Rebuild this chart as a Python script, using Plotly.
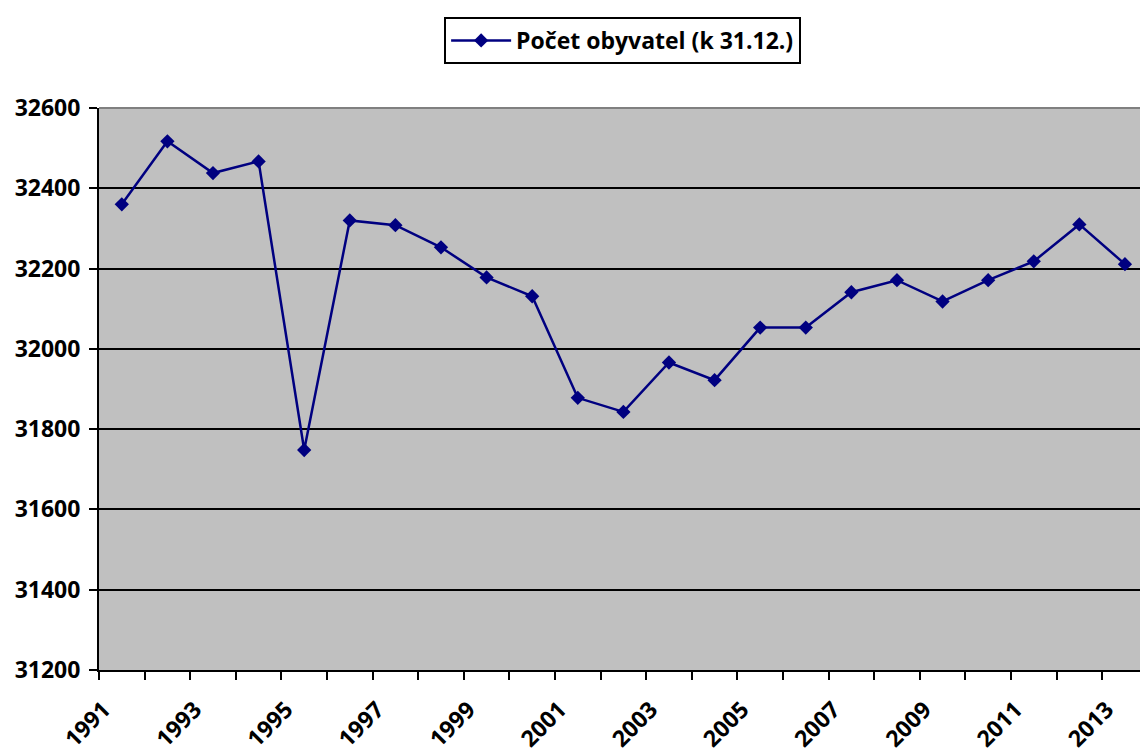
import plotly.graph_objects as go

years = list(range(1991, 2014))
population = [32360, 32517, 32438, 32467, 31748, 32320, 32308, 32253, 32178, 32131,
              31878, 31843, 31966, 31922, 32053, 32053, 32141, 32171, 32118, 32171,
              32218, 32310, 32211]
series_name = "Počet obyvatel (k 31.12.)"
tick_years = years[::2]
tick_labels = [str(y) for y in tick_years]
y_ticks = list(range(31200, 32601, 200))
y_labels = [str(v) for v in y_ticks]

FONT = dict(family="Open Sans", size=23, color="black", weight="bold")
NAVY = "#000080"

fig = go.Figure()
fig.add_trace(go.Scatter(
    x=years, y=population, name=series_name, mode="lines+markers",
    line=dict(color=NAVY, width=2.5),
    marker=dict(symbol="diamond", size=11, color=NAVY),
    showlegend=True,
))

fig.update_layout(
    width=1140, height=749,
    margin=dict(l=99, r=0, t=108, b=79, autoexpand=False),
    paper_bgcolor="white",
    plot_bgcolor="#C0C0C0",
    font=FONT,
    showlegend=True,
    legend=dict(
        x=0.503, y=1.162, xanchor="center", yanchor="top",
        bgcolor="white", bordercolor="black", borderwidth=2,
        font=FONT, itemwidth=60,
    ),
    xaxis=dict(
        range=[1990.5, 2013.33], automargin=False,
        tickmode="array", tickvals=tick_years, ticktext=tick_labels,
        tickangle=-45, ticks="", ticklen=0,
        ticklabelshift=-18, ticklabelstandoff=15,
        showgrid=False, zeroline=False,
        showline=True, linecolor="black", linewidth=2,
        minor=dict(tickvals=[y - 0.5 for y in years] + [2013.5], ticks="outside",
                   ticklen=8, tickwidth=2, tickcolor="black", showgrid=False),
        tickfont=FONT,
    ),
    yaxis=dict(
        range=[31200, 32600], automargin=False,
        tickmode="array", tickvals=y_ticks, ticktext=y_labels,
        ticks="outside", ticklen=8, tickwidth=2, tickcolor="black",
        ticklabelstandoff=4,
        showgrid=True, gridcolor="black", gridwidth=2,
        zeroline=False,
        showline=True, linecolor="black", linewidth=2,
        tickfont=FONT,
    ),
)

fig.add_shape(type="line", xref="paper", yref="paper", x0=0, x1=1, y0=1, y1=1,
              line=dict(color="#808080", width=2), layer="above")

fig.write_html("out.html", config={"displayModeBar": False},
               post_script="document.body.style.margin='0';document.body.style.overflow='hidden';")
